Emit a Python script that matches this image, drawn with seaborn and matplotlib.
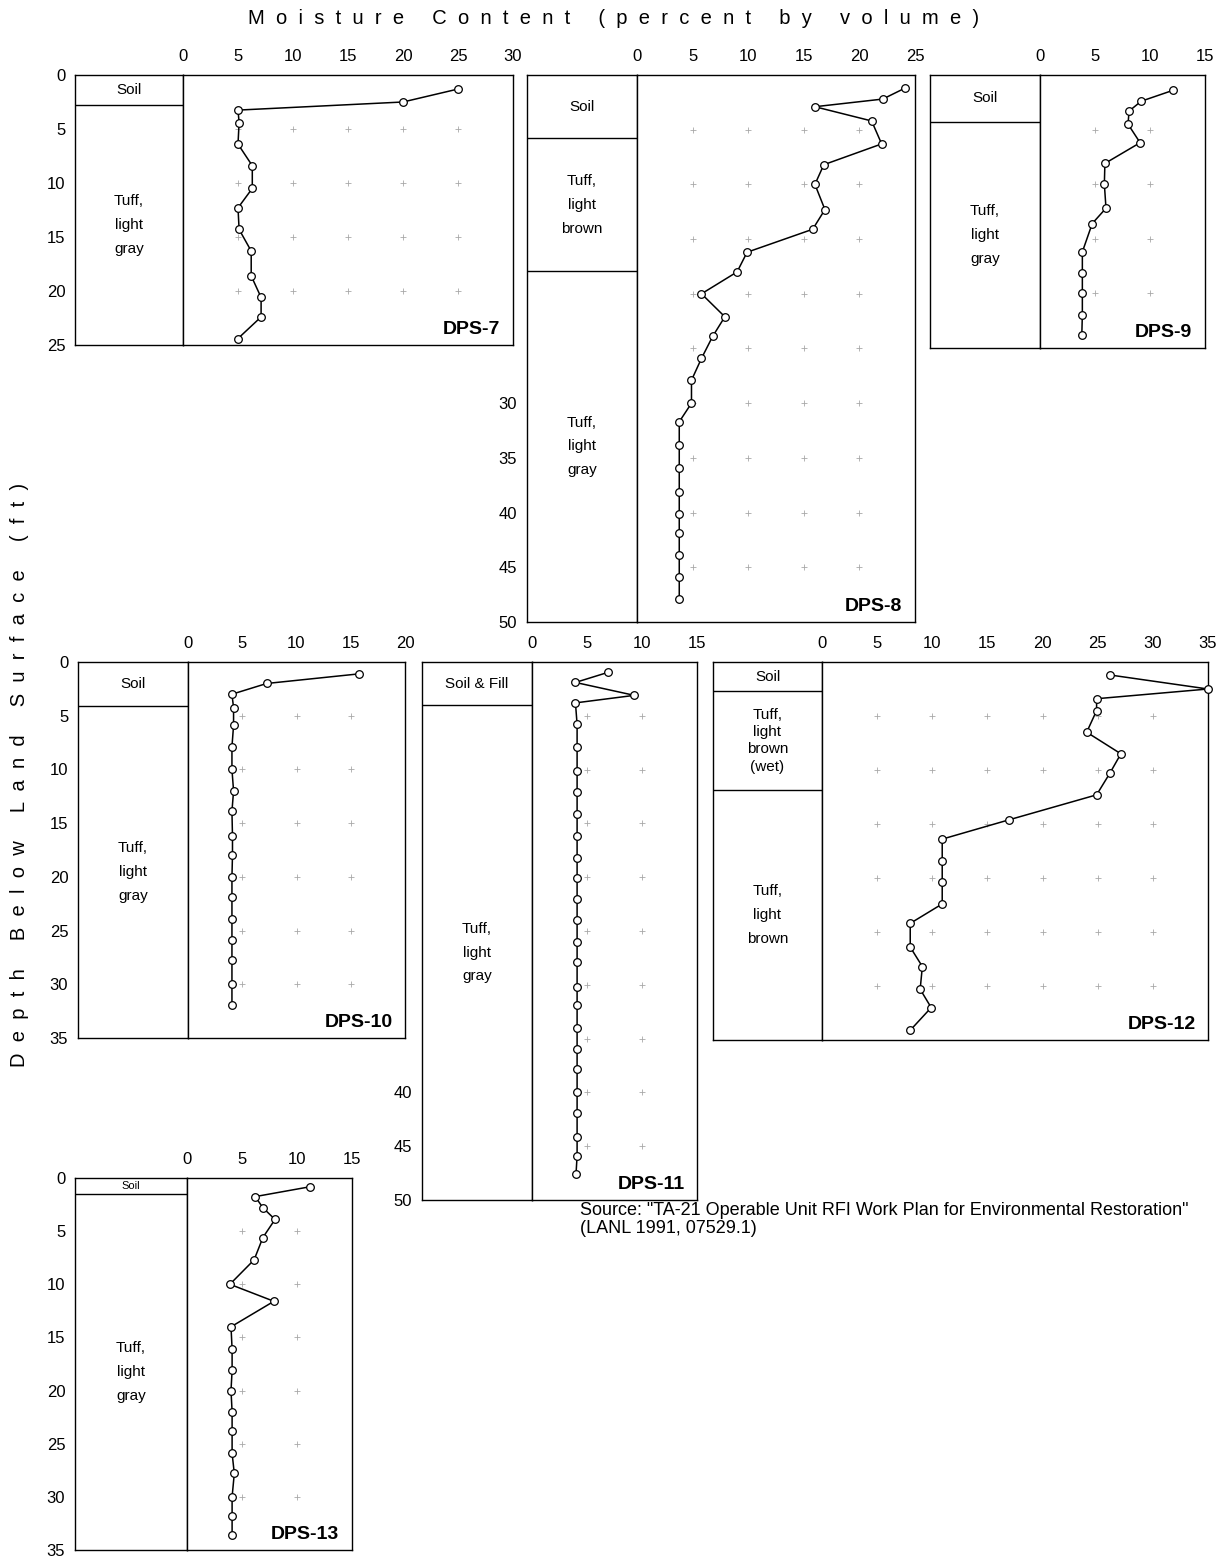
import numpy as np
import pandas as pd
import matplotlib
matplotlib.use("Agg")
import matplotlib.pyplot as plt
import seaborn as sns

sns.set_theme(style="white")
plt.rcParams['font.family'] = ['Liberation Sans', 'DejaVu Sans']
plt.rcParams['text.color'] = 'black'
plt.rcParams['xtick.color'] = 'black'
plt.rcParams['ytick.color'] = 'black'
plt.rcParams['axes.labelcolor'] = 'black'

# ---------------- data ----------------
dps7_depth = [1.3, 2.5, 3.25, 4.4, 6.4, 8.4, 10.5, 12.3, 14.3, 16.3, 18.6, 20.6, 22.4, 24.4]
dps7_moist = [25.0, 20.0, 5.0, 5.1, 5.0, 6.3, 6.3, 5.0, 5.1, 6.2, 6.2, 7.1, 7.1, 5.0]

dps8_depth = [1.2, 2.2, 2.9, 4.2, 6.3, 8.2, 10.0, 12.3, 14.1, 16.2, 18.0, 20.0, 22.1,
              23.9, 25.9, 27.9, 30.0, 31.7, 33.8, 35.9, 38.1, 40.1, 41.9, 43.9, 45.9, 47.9]
dps8_moist = [24.1, 22.1, 16.0, 21.1, 22.0, 16.8, 16.0, 16.9, 15.8, 9.9, 9.0, 5.8, 7.9,
              6.8, 5.8, 4.9, 4.9, 3.8, 3.8, 3.8, 3.8, 3.8, 3.8, 3.8, 3.8, 3.8]

dps9_depth = [1.4, 2.4, 3.3, 4.5, 6.2, 8.1, 10.0, 12.2, 13.6, 16.2, 18.1, 20.0, 22.0, 23.8]
dps9_moist = [12.1, 9.2, 8.1, 8.0, 9.1, 5.9, 5.85, 6.0, 4.75, 3.85, 3.85, 3.85, 3.85, 3.8]

dps10_depth = [1.1, 2.0, 3.0, 4.25, 5.9, 7.9, 10.0, 12.0, 13.9, 16.2, 18.0, 20.0, 21.9,
               23.9, 25.9, 27.7, 30.0, 31.9]
dps10_moist = [15.8, 7.25, 4.05, 4.2, 4.2, 4.05, 4.05, 4.2, 4.05, 4.1, 4.1, 4.05, 4.05,
               4.05, 4.05, 4.05, 4.05, 4.05]

dps11_depth = [0.95, 1.9, 3.1, 3.8, 5.8, 7.9, 10.1, 12.1, 14.1, 16.2, 18.2, 20.1, 22.0,
               24.0, 26.0, 27.9, 30.2, 31.9, 34.0, 36.0, 37.8, 40.0, 41.9, 44.1, 45.9, 47.6]
dps11_moist = [6.95, 3.95, 9.3, 3.95, 4.1, 4.1, 4.1, 4.1, 4.1, 4.1, 4.1, 4.1, 4.1,
               4.1, 4.1, 4.1, 4.1, 4.1, 4.1, 4.1, 4.1, 4.1, 4.1, 4.1, 4.1, 4.0]

dps12_depth = [1.2, 2.5, 3.4, 4.5, 6.5, 8.5, 10.3, 12.3, 14.6, 16.4, 18.4, 20.4, 22.4,
               24.2, 26.4, 28.2, 30.3, 32.0, 34.1]
dps12_moist = [26.1, 35.0, 24.9, 24.9, 24.0, 27.1, 26.1, 24.9, 17.0, 10.9, 10.9, 10.9, 10.9,
               8.0, 8.0, 9.1, 8.9, 9.9, 8.0]

dps13_depth = [0.83, 1.75, 2.8, 3.9, 5.6, 7.7, 10.0, 11.6, 14.0, 16.1, 18.1, 20.0, 22.0,
               23.8, 25.9, 27.8, 30.0, 31.8, 33.6]
dps13_moist = [11.15, 6.2, 6.9, 8.0, 6.9, 6.1, 3.9, 7.9, 4.0, 4.1, 4.1, 4.0, 4.1,
               4.1, 4.1, 4.3, 4.1, 4.1, 4.1]

# lithology: boundaries (ft) and labels
dps7_lith_bounds = [0, 2.8, 25]
dps7_lith_labels = ["Soil", "Tuff,\nlight\ngray"]
dps8_lith_bounds = [0, 5.8, 17.9, 50]
dps8_lith_labels = ["Soil", "Tuff,\nlight\nbrown", "Tuff,\nlight\ngray"]
dps9_lith_bounds = [0, 4.3, 25]
dps9_lith_labels = ["Soil", "Tuff,\nlight\ngray"]
dps10_lith_bounds = [0, 4.1, 35]
dps10_lith_labels = ["Soil", "Tuff,\nlight\ngray"]
dps11_lith_bounds = [0, 4.0, 50]
dps11_lith_labels = ["Soil & Fill", "Tuff,\nlight\ngray"]
dps12_lith_bounds = [0, 2.7, 11.85, 35]
dps12_lith_labels = ["Soil", "Tuff,\nlight\nbrown\n(wet)", "Tuff,\nlight\nbrown"]
dps13_lith_bounds = [0, 1.5, 35]
dps13_lith_labels = ["Soil", "Tuff,\nlight\ngray"]

# axis ranges and tick labels
dps7_xticks = [0, 5, 10, 15, 20, 25, 30]
dps8_xticks = [0, 5, 10, 15, 20, 25]
dps9_xticks = [0, 5, 10, 15]
dps10_xticks = [0, 5, 10, 15, 20]
dps11_xticks = [0, 5, 10, 15]
dps12_xticks = [0, 5, 10, 15, 20, 25, 30, 35]
dps13_xticks = [0, 5, 10, 15]

dps7_yticks = [0, 5, 10, 15, 20, 25]
dps8_yticks = [30, 35, 40, 45, 50]
dps9_yticks = []
dps10_yticks = [0, 5, 10, 15, 20, 25, 30, 35]
dps11_yticks = [40, 45, 50]
dps12_yticks = []
dps13_yticks = [0, 5, 10, 15, 20, 25, 30, 35]

dps7_ymax, dps8_ymax, dps9_ymax, dps10_ymax = 25, 50, 25, 35
dps11_ymax, dps12_ymax, dps13_ymax = 50, 35, 35

title_text = "Moisture Content (percent by volume)"
ylabel_text = "Depth Below Land Surface (ft)"
source_text = ('Source: "TA-21 Operable Unit RFI Work Plan for Environmental Restoration"\n'
               '(LANL 1991, 07529.1)')

# ---------------- layout (pixels) ----------------
W, H = 1223, 1565
fig = plt.figure(figsize=(W / 100, H / 100), dpi=100)
fig.patch.set_facecolor("white")


def rect(x0, x1, y0, y1):
    return [x0 / W, 1 - y1 / H, (x1 - x0) / W, (y1 - y0) / H]


panels = [
    dict(name="DPS-7", depth=dps7_depth, moist=dps7_moist, xticks=dps7_xticks,
         yticks=dps7_yticks, ymax=dps7_ymax, bounds=dps7_lith_bounds,
         labels=dps7_lith_labels, box=(75, 183, 513, 75, 345), ls=[1.0, 1.9]),
    dict(name="DPS-8", depth=dps8_depth, moist=dps8_moist, xticks=dps8_xticks,
         yticks=dps8_yticks, ymax=dps8_ymax, bounds=dps8_lith_bounds,
         labels=dps8_lith_labels, box=(527, 637, 915, 75, 622), ls=[1.0, 1.9, 1.9]),
    dict(name="DPS-9", depth=dps9_depth, moist=dps9_moist, xticks=dps9_xticks,
         yticks=dps9_yticks, ymax=dps9_ymax, bounds=dps9_lith_bounds,
         labels=dps9_lith_labels, box=(930, 1040, 1205, 75, 348), ls=[1.0, 1.9]),
    dict(name="DPS-10", depth=dps10_depth, moist=dps10_moist, xticks=dps10_xticks,
         yticks=dps10_yticks, ymax=dps10_ymax, bounds=dps10_lith_bounds,
         labels=dps10_lith_labels, box=(78, 188, 405, 662, 1038), ls=[1.0, 1.9]),
    dict(name="DPS-11", depth=dps11_depth, moist=dps11_moist, xticks=dps11_xticks,
         yticks=dps11_yticks, ymax=dps11_ymax, bounds=dps11_lith_bounds,
         labels=dps11_lith_labels, box=(422, 532, 697, 662, 1200), ls=[1.0, 1.9]),
    dict(name="DPS-12", depth=dps12_depth, moist=dps12_moist, xticks=dps12_xticks,
         yticks=dps12_yticks, ymax=dps12_ymax, bounds=dps12_lith_bounds,
         labels=dps12_lith_labels, box=(713, 822, 1208, 662, 1040), ls=[1.0, 1.3, 1.9]),
    dict(name="DPS-13", depth=dps13_depth, moist=dps13_moist, xticks=dps13_xticks,
         yticks=dps13_yticks, ymax=dps13_ymax, bounds=dps13_lith_bounds,
         labels=dps13_lith_labels, box=(75, 187, 352, 1178, 1550), ls=[1.0, 1.9]),
]

TICK_FS = 12
LITH_FS = 11

for p in panels:
    lx0, lx1, px1, ty, by = p["box"]
    lax = fig.add_axes(rect(lx0, lx1, ty, by))
    pax = fig.add_axes(rect(lx1, px1, ty, by))

    for ax in (lax, pax):
        ax.set_facecolor("white")
        ax.set_ylim(p["ymax"], 0)
        for s in ax.spines.values():
            s.set_visible(True)
            s.set_color("black")
            s.set_linewidth(1.0)
        ax.tick_params(length=0, colors="black")

    # lithology column
    lax.set_xlim(0, 1)
    lax.set_xticks([])
    lax.set_yticks(p["yticks"])
    lax.set_yticklabels([str(t) for t in p["yticks"]], fontsize=TICK_FS)
    lax.tick_params(axis="y", pad=7)
    b = p["bounds"]
    for z in b[1:-1]:
        lax.axhline(z, color="black", lw=1.0)
    for i, lab in enumerate(p["labels"]):
        fs = LITH_FS
        if p["name"] == "DPS-13" and i == 0:
            fs = 8
        lax.text(0.5, (b[i] + b[i + 1]) / 2, lab, ha="center", va="center",
                 fontsize=fs, linespacing=p["ls"][i], color="black")

    # moisture profile
    xmax = p["xticks"][-1]
    pax.set_xlim(0, xmax)
    pax.xaxis.tick_top()
    pax.set_xticks(p["xticks"])
    pax.set_xticklabels([str(t) for t in p["xticks"]], fontsize=TICK_FS)
    pax.tick_params(axis="x", pad=8)
    pax.set_yticks([])

    gx, gy = np.meshgrid(p["xticks"][1:-1], np.arange(5, p["ymax"], 5))
    pax.scatter(gx.ravel(), gy.ravel(), marker="+", s=14, color="#a8a8a8",
                linewidths=0.6, zorder=1)

    df = pd.DataFrame({"moisture": p["moist"], "depth": p["depth"]})
    sns.lineplot(data=df, x="moisture", y="depth", sort=False, estimator=None,
                 color="black", linewidth=1.1, marker="o", markersize=5.5,
                 markerfacecolor="white", markeredgecolor="black",
                 markeredgewidth=0.9, clip_on=False, zorder=3, ax=pax)
    pax.set_xlabel("")
    pax.set_ylabel("")
    pax.set_ylim(p["ymax"], 0)

    pax.annotate(p["name"], xy=(1, 0), xycoords="axes fraction",
                 xytext=(-9, 8), textcoords="offset points",
                 ha="right", va="baseline", fontsize=14, fontweight="bold",
                 color="black")


def spaced(s):
    return "     ".join("  ".join(list(w)) for w in s.split(" "))


fig.text(614 / W, 1 - 19 / H, spaced(title_text), ha="center", va="center",
         fontsize=14.5, color="black")
fig.text(20 / W, 1 - 775 / H, spaced(ylabel_text), ha="center", va="center",
         rotation=90, fontsize=14.5, color="black")
fig.text(580 / W, 1 - 1202 / H, source_text, ha="left", va="top",
         fontsize=13, linespacing=1.05, color="black")

fig.savefig("out.png", dpi=100, facecolor="white")
